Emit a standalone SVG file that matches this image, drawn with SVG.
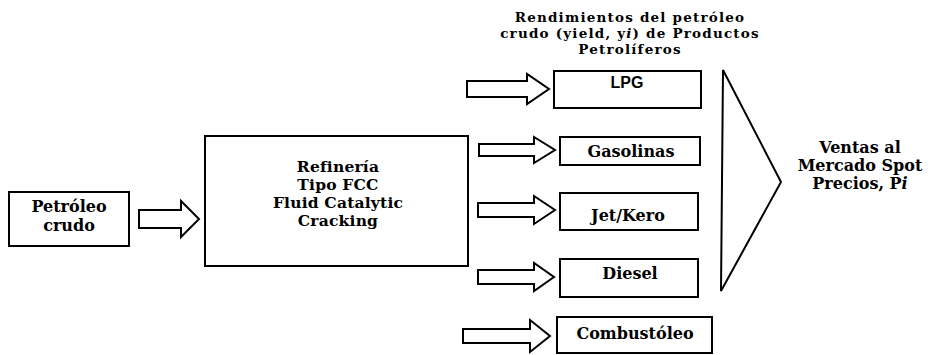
<svg xmlns="http://www.w3.org/2000/svg" width="928" height="355" viewBox="0 0 928 355">
  <style>
    .box { fill: #fff; stroke: #000; stroke-width: 2; }
    .arrow { fill: #fff; stroke: #000; stroke-width: 2; stroke-linejoin: miter; }
    .lbl { font-family: "DejaVu Serif", "Liberation Serif", serif; font-weight: bold; font-size: 16px; fill: #000; text-anchor: middle; }
    .head { font-size: 13.5px; letter-spacing: 1.2px; }
    .ref { font-size: 15.5px; letter-spacing: 0.2px; }
    .sans { font-family: "Liberation Sans", Arial, sans-serif; font-weight: bold; font-size: 16px; fill: #000; text-anchor: middle; }
    .it { font-style: italic; }
  </style>

  <!-- heading over the product column -->
  <g id="yield-heading">
    <text class="lbl head" x="630" y="22">Rendimientos del petróleo</text>
    <text class="lbl head" x="630" y="38">crudo (yield, y<tspan class="it">i</tspan>) de Productos</text>
    <text class="lbl head" x="630" y="54">Petrolíferos</text>
  </g>

  <g id="crudo">
    <rect class="box" x="9" y="192" width="120" height="54"/>
    <text class="lbl" x="69" y="212">Petróleo</text>
    <text class="lbl" x="69" y="231">crudo</text>
  </g>

  <g id="refineria">
    <rect class="box" x="205" y="136" width="263" height="130"/>
    <text class="lbl ref" x="338" y="172">Refinería</text>
    <text class="lbl ref" x="338" y="190">Tipo FCC</text>
    <text class="lbl ref" x="338" y="208">Fluid Catalytic</text>
    <text class="lbl ref" x="338" y="226">Cracking</text>
  </g>

  <g id="lpg">
    <rect class="box" x="554" y="71" width="147" height="37"/>
    <text class="sans" x="627" y="88">LPG</text>
  </g>

  <g id="gasolinas">
    <rect class="box" x="560" y="137" width="140" height="28"/>
    <text class="lbl" x="631" y="157">Gasolinas</text>
  </g>

  <g id="jet-kero">
    <rect class="box" x="560" y="193" width="138" height="37"/>
    <text class="lbl" x="628" y="221">Jet/Kero</text>
  </g>

  <g id="diesel">
    <rect class="box" x="560" y="259" width="138" height="38"/>
    <text class="lbl" x="630" y="279">Diesel</text>
  </g>

  <g id="combustoleo">
    <rect class="box" x="557" y="317" width="155" height="36"/>
    <text class="lbl" x="635" y="339">Combustóleo</text>
  </g>

  <g id="mercado-spot">
    <polygon class="box" points="723,70 781,182 721,291"/>
    <text class="lbl" x="860" y="153">Ventas al</text>
    <text class="lbl" x="860" y="171">Mercado Spot</text>
    <text class="lbl" x="860" y="189">Precios, P<tspan class="it">i</tspan></text>
  </g>

  <!-- block arrows -->
  <g id="connectors">
    <polygon class="arrow" points="139,210 181,210 181,201 199,219 181,237 181,228 139,228"/>
    <polygon class="arrow" points="467,81 527,81 527,74 549,89 527,104 527,97 467,97"/>
    <polygon class="arrow" points="479,144 534,144 534,137 555,150 534,163 534,156 479,156"/>
    <polygon class="arrow" points="478,203 534,203 534,196 555,210 534,224 534,217 478,217"/>
    <polygon class="arrow" points="478,270 534,270 534,263 554,277 534,291 534,284 478,284"/>
    <polygon class="arrow" points="463,329 530,329 530,320 550,336 530,352 530,343 463,343"/>
  </g>
</svg>
